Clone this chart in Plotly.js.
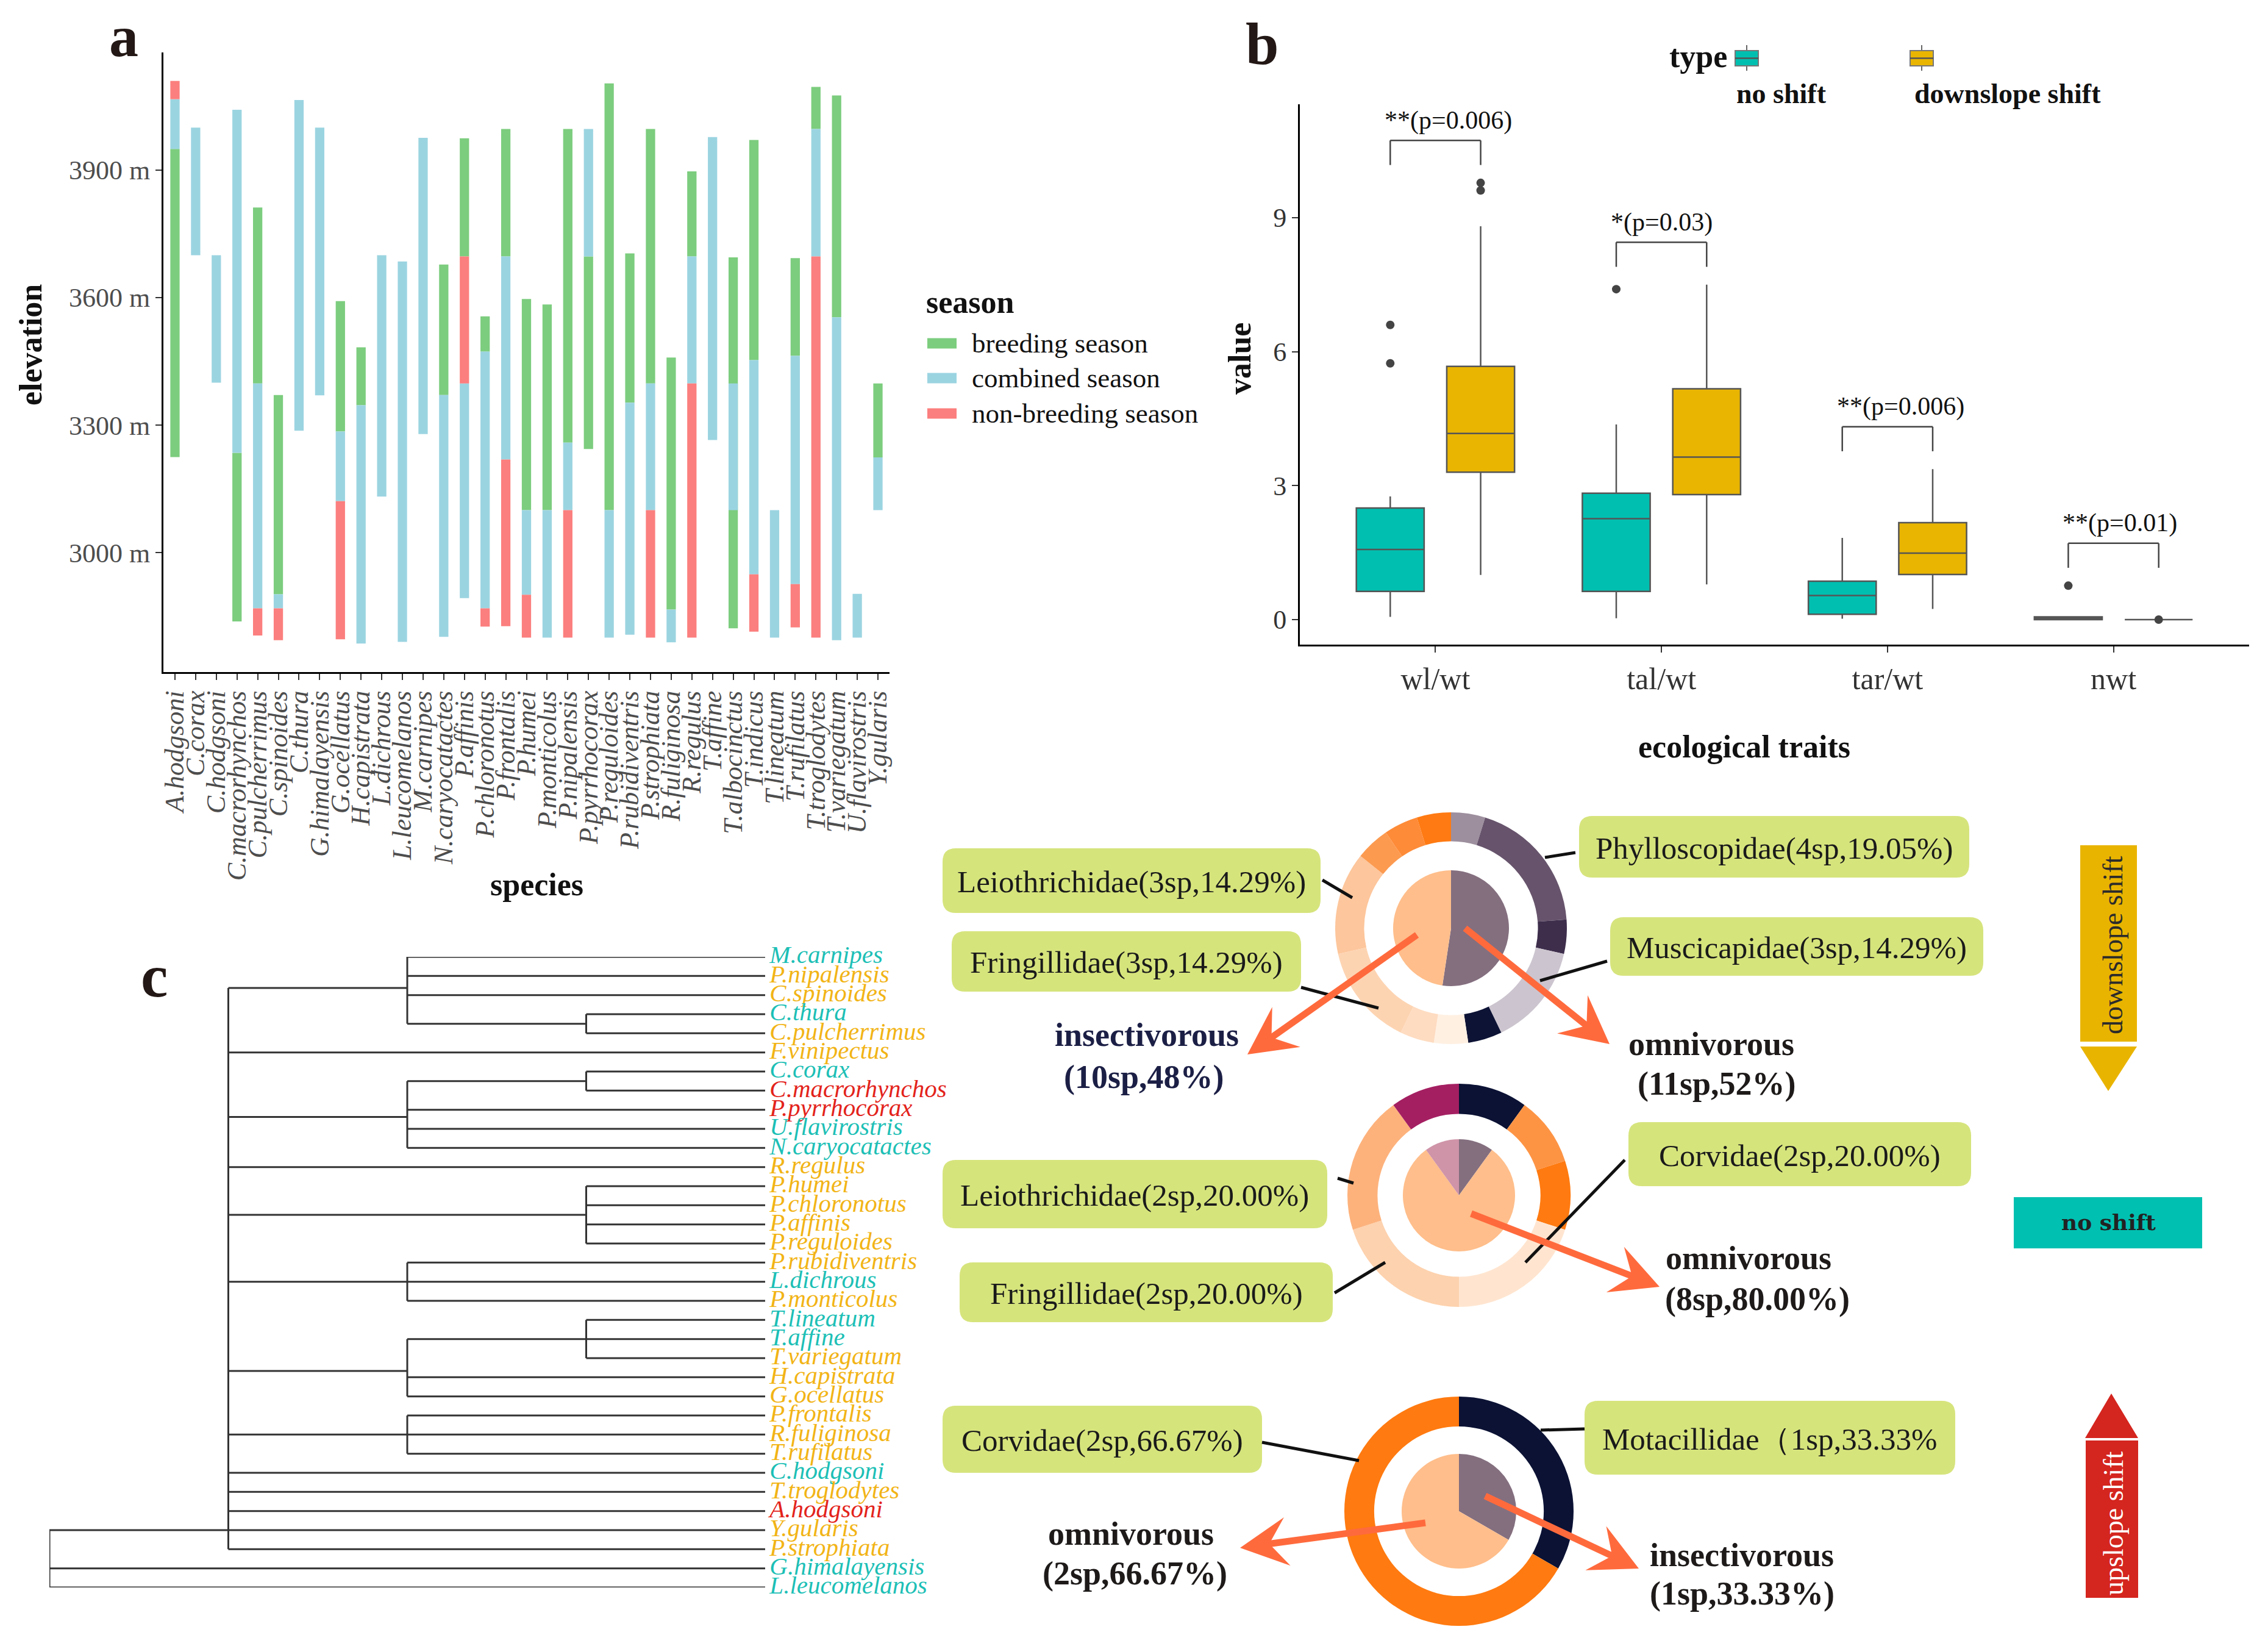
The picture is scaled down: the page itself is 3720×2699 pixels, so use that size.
<!DOCTYPE html>
<html><head><meta charset="utf-8">
<script src="https://cdn.plot.ly/plotly-3.0.1.min.js"></script>
<style>html,body{margin:0;padding:0;background:#fff;}</style>
</head><body><div id="chart" style="width:3720px;height:2699px;"></div>
<script>
// ---------------- Panel a data ----------------
const species = ['A.hodgsoni','C.corax','C.hodgsoni','C.macrorhynchos','C.pulcherrimus','C.spinoides','C.thura','G.himalayensis','G.ocellatus','H.capistrata','L.dichrous','L.leucomelanos','M.carnipes','N.caryocatactes','P.affinis','P.chloronotus','P.frontalis','P.humei','P.monticolus','P.nipalensis','P.pyrrhocorax','P.reguloides','P.rubidiventris','P.strophiata','R.fuliginosa','R.regulus','T.affine','T.albocinctus','T.indicus','T.lineatum','T.rufilatus','T.troglodytes','T.variegatum','U.flavirostris','Y.gularis'];
const breedLow  = [3225,null,null,2838,3398,2902,null,null,3285,3347,null,null,null,3371,3697,3473,3697,3100,3100,3259,3244,3100,3353,3398,2866,3697,null,2822,3453,null,3463,3997,3554,null,3224];
const breedHigh = [3950,null,null,3235,3812,3371,null,null,3592,3483,null,null,null,3678,3975,3556,3997,3597,3584,3997,3697,4104,3704,3997,3459,3897,null,3695,3971,null,3693,4096,4076,null,3398];
const combLow   = [3950,3700,3400,3235,2869,2869,3287,3370,3121,2786,3132,2790,3279,2802,2893,2869,3219,2901,2800,3100,3697,2800,2807,3100,2789,3398,3265,3100,2949,2800,2926,3697,2794,2800,3100];
const combHigh  = [4067,4000,3700,4042,3398,2902,4065,4000,3285,3347,3700,3685,3976,3371,3398,3473,3697,3100,3100,3259,3997,3100,3353,3398,2866,3697,3978,3398,3453,3100,3463,3997,3554,2903,3224];
const nonLow    = [4067,null,null,null,2805,2794,null,null,2796,null,null,null,null,null,3398,2826,2827,2800,null,2800,null,null,null,2800,null,2800,null,null,2814,null,2824,2800,null,null,null];
const nonHigh   = [4110,null,null,null,2869,2869,null,null,3121,null,null,null,null,null,3697,2869,3219,2901,null,3100,null,null,null,3100,null,3398,null,null,2949,null,2926,3697,null,null,null];
const seasonNames = ['breeding season','combined season','non-breeding season'];
const elevTicks = [3000,3300,3600,3900];
const elevTickText = ['3000 m','3300 m','3600 m','3900 m'];

// ---------------- Panel b data ----------------
const traits = ['wl/wt','tal/wt','tar/wt','nwt'];
const typeNames = ['no shift','downslope shift'];
const noShiftLo  = [0.06,0.03,0.02,0.00];
const noShiftQ1  = [0.63,0.63,0.12,0.00];
const noShiftMed = [1.57,2.26,0.54,0.03];
const noShiftQ3  = [2.50,2.83,0.86,0.06];
const noShiftHi  = [2.76,4.37,1.83,0.07];
const downLo  = [1.00,0.79,0.24,0.00];
const downQ1  = [3.30,2.80,1.01,0.00];
const downMed = [4.17,3.64,1.49,0.00];
const downQ3  = [5.67,5.17,2.17,0.00];
const downHi  = [8.81,7.50,3.37,0.00];
const noShiftOutTrait = [0,0,1,3];
const noShiftOutVal   = [6.60,5.74,7.40,0.76];
const downOutTrait = [0,0,3];
const downOutVal   = [9.78,9.61,0.00];
const sigLabels = ['**(p=0.006)','*(p=0.03)','**(p=0.006)','**(p=0.01)'];
const valueTicks = [0,3,6,9];

// ---------------- Panel c data ----------------
const tipDepth = 4;
const treeData = {d:0, c:[
  {d:1, anchor:'Y.gularis', c:[
    {d:2, c:['M.carnipes','P.nipalensis','C.spinoides',{d:3, c:['C.thura','C.pulcherrimus']}]},
    'F.vinipectus',
    {d:2, c:[{d:3, c:['C.corax','C.macrorhynchos']},'P.pyrrhocorax','U.flavirostris','N.caryocatactes']},
    'R.regulus',
    {d:3, c:['P.humei','P.chloronotus','P.affinis','P.reguloides']},
    {d:2, c:['P.rubidiventris','L.dichrous','P.monticolus']},
    {d:2, c:[{d:3, c:['T.lineatum','T.affine','T.variegatum']},'H.capistrata','G.ocellatus']},
    {d:2, c:['P.frontalis','R.fuliginosa','T.rufilatus']},
    'C.hodgsoni','T.troglodytes','A.hodgsoni','Y.gularis','P.strophiata'
  ]},
  'G.himalayensis','L.leucomelanos'
]};
const noShiftTips  = ['M.carnipes','C.thura','C.corax','U.flavirostris','N.caryocatactes','L.dichrous','T.lineatum','T.affine','C.hodgsoni','G.himalayensis','L.leucomelanos'];
const upslopeTips  = ['C.macrorhynchos','P.pyrrhocorax','A.hodgsoni'];

// donut data (slices clockwise from 12 o'clock)
const d1OuterNames = ['Omni-1','Phylloscopidae','Omni-2','Muscicapidae','Omni-3','Omni-4','Insect-1','Fringillidae','Leiothrichidae','Insect-2','Insect-3','Insect-4'];
const d1OuterSp    = [1,4,1,3,1,1,1,3,3,1,1,1];
const d1InnerNames = ['omnivorous','insectivorous'];
const d1InnerSp    = [11,10];
const d2OuterNames = ['NS-1','NS-2','NS-3','Corvidae','Fringillidae','Leiothrichidae','NS-4'];
const d2OuterSp    = [1,1,1,2,2,2,1];
const d2InnerNames = ['insectivorous','omnivorous','granivorous'];
const d2InnerSp    = [1,8,1];
const d3OuterNames = ['Motacillidae','Corvidae'];
const d3OuterSp    = [1,2];
const d3InnerNames = ['insectivorous','omnivorous'];
const d3InnerSp    = [1,2];

// ---------------- helpers / styles ----------------
const W = 3720, H = 2699;
const X = px => px / W, Y = py => 1 - py / H;
const SERIF = 'Liberation Serif';
const seasonColors = ['#7ccd7e','#9bd4e1','#fb7f7e'];
const teal = '#00bfb0', gold = '#e9b500';
const shapes = [], annotations = [];

function ann(text, px, py, opts) {
  annotations.push(Object.assign({text:text, x:X(px), y:Y(py), xref:'paper', yref:'paper',
    showarrow:false, xanchor:'center', yanchor:'middle',
    font:{family:SERIF, size:44, color:'#1a1a1a'}}, opts||{}));
}
function rectPx(x0,y0,x1,y1,fill,line) {
  shapes.push({type:'rect', xref:'paper', yref:'paper', x0:X(x0), x1:X(x1), y0:Y(y1), y1:Y(y0),
    fillcolor:fill, line:line||{width:0}});
}
function linePx(x0,y0,x1,y1,color,width) {
  shapes.push({type:'line', xref:'paper', yref:'paper', x0:X(x0), y0:Y(y0), x1:X(x1), y1:Y(y1),
    line:{color:color, width:width}});
}
function pathPx(pts, fill) {
  const d = 'M' + pts.map(p => X(p[0]) + ',' + Y(p[1])).join(' L') + ' Z';
  shapes.push({type:'path', xref:'paper', yref:'paper', path:d, fillcolor:fill, line:{width:0}});
}
function roundBox(x0,y0,x1,y1,r,fill) {
  const P = (x,y) => X(x) + ',' + Y(y);
  const d = `M${P(x0+r,y0)} L${P(x1-r,y0)} Q${P(x1,y0)} ${P(x1,y0+r)} L${P(x1,y1-r)} Q${P(x1,y1)} ${P(x1-r,y1)} L${P(x0+r,y1)} Q${P(x0,y1)} ${P(x0,y1-r)} L${P(x0,y0+r)} Q${P(x0,y0)} ${P(x0+r,y0)} Z`;
  shapes.push({type:'path', xref:'paper', yref:'paper', path:d, fillcolor:fill, line:{width:0}});
}
function arrowPx(x0,y0,x1,y1,color) {
  const dx=x1-x0, dy=y1-y0, len=Math.hypot(dx,dy), ux=dx/len, uy=dy/len, px=-uy, py=ux;
  const L=78, Wd=40, notch=0.62;
  const bx=x1-ux*L, by=y1-uy*L, sx=x1-ux*L*notch, sy=y1-uy*L*notch;
  linePx(x0,y0,sx+ux*4,sy+uy*4,color,11);
  pathPx([[x1,y1],[bx+px*Wd,by+py*Wd],[sx,sy],[bx-px*Wd,by-py*Wd]], color);
}

// ---------------- traces ----------------
const traces = [];
const lows = [breedLow, combLow, nonLow], highs = [breedHigh, combHigh, nonHigh];
for (let s = 0; s < 3; s++) {
  traces.push({type:'bar', name:seasonNames[s], x:species,
    base:lows[s], y:highs[s].map((h,i) => h === null ? null : h - lows[s][i]),
    width:0.45, marker:{color:seasonColors[s], line:{width:0}},
    xaxis:'x', yaxis:'y', hoverinfo:'skip', showlegend:false});
}

const traitIdx = traits.map((_,i) => i);
const dodge = 0.2;
traces.push({type:'box', name:typeNames[0], x:traitIdx.map(i => i - dodge),
  q1:noShiftQ1, median:noShiftMed, q3:noShiftQ3, lowerfence:noShiftLo, upperfence:noShiftHi,
  width:0.3, fillcolor:teal, line:{color:'#555555', width:2.5}, whiskerwidth:0, boxpoints:false,
  xaxis:'x2', yaxis:'y2', hoverinfo:'skip', showlegend:false});
traces.push({type:'box', name:typeNames[1], x:traitIdx.map(i => i + dodge),
  q1:downQ1, median:downMed, q3:downQ3, lowerfence:downLo, upperfence:downHi,
  width:0.3, fillcolor:gold, line:{color:'#555555', width:2.5}, whiskerwidth:0, boxpoints:false,
  xaxis:'x2', yaxis:'y2', hoverinfo:'skip', showlegend:false});
traces.push({type:'scatter', mode:'markers', x:noShiftOutTrait.map(i => i - dodge), y:noShiftOutVal,
  marker:{color:'#444', size:14}, xaxis:'x2', yaxis:'y2', hoverinfo:'skip', showlegend:false});
traces.push({type:'scatter', mode:'markers', x:downOutTrait.map(i => i + dodge), y:downOutVal,
  marker:{color:'#444', size:14}, xaxis:'x2', yaxis:'y2', hoverinfo:'skip', showlegend:false});

// significance brackets
traits.forEach((t,i) => {
  const outs = noShiftOutVal.filter((v,k) => noShiftOutTrait[k] === i).concat(downOutVal.filter((v,k) => downOutTrait[k] === i));
  const top = Math.max(noShiftHi[i], downHi[i], ...outs) + 0.95;
  const leg = 0.55;
  const xl = i - dodge, xr = i + dodge;
  [[xl,top-leg,xl,top],[xl,top,xr,top],[xr,top,xr,top-leg]].forEach(s => shapes.push({type:'line', xref:'x2', yref:'y2',
    x0:s[0], y0:s[1], x1:s[2], y1:s[3], line:{color:'#444', width:2.5}}));
  annotations.push({text:sigLabels[i], x:xl - 0.03, y:top + 0.1, xref:'x2', yref:'y2', showarrow:false,
    xanchor:'left', yanchor:'bottom', font:{family:SERIF, size:42, color:'#111'}});
});

// tree layout
const tipOrder = [];
(function collect(n){ if (typeof n === 'string') tipOrder.push(n); else n.c.forEach(collect); })(treeData);
const tipY = {}; tipOrder.forEach((t,i) => tipY[t] = i);
const tx = [], ty = [];
function layoutNode(n) {
  if (typeof n === 'string') return {y:tipY[n], d:tipDepth};
  const kids = n.c.map(layoutNode);
  const y = n.anchor ? tipY[n.anchor] : kids.reduce((a,k) => a + k.y, 0) / kids.length;
  tx.push(n.d, n.d, null); ty.push(kids[0].y, kids[kids.length-1].y, null);
  kids.forEach(k => { tx.push(n.d, k.d, null); ty.push(k.y, k.y, null); });
  return {y:y, d:n.d};
}
layoutNode(treeData);
traces.push({type:'scatter', mode:'lines', x:tx, y:ty, line:{color:'#333', width:3},
  xaxis:'x3', yaxis:'y3', hoverinfo:'skip', showlegend:false, connectgaps:false});
const tipColor = t => upslopeTips.includes(t) ? '#e3231b' : (noShiftTips.includes(t) ? '#1dbfb6' : '#f2b416');
const labelGap = 0.025;
traces.push({type:'scatter', mode:'text', x:tipOrder.map(() => tipDepth + labelGap), y:tipOrder.map(t => tipY[t]),
  text:tipOrder, textposition:'middle right',
  textfont:{family:SERIF, size:41, style:'italic', color:tipOrder.map(tipColor)},
  cliponaxis:false, xaxis:'x3', yaxis:'y3', hoverinfo:'skip', showlegend:false});

// donuts
function pieDomain(cx, cy, R) { return {x:[X(cx-R), X(cx+R)], y:[Y(cy+R), Y(cy-R)]}; }
function addPie(labels, values, colors, cx, cy, R, hole) {
  traces.push({type:'pie', labels:labels, values:values, marker:{colors:colors, line:{width:0}},
    hole:hole, sort:false, direction:'clockwise', rotation:0, textinfo:'none', hoverinfo:'skip',
    showlegend:false, domain:pieDomain(cx, cy, R)});
}
const purple = '#846f7f', peach = '#ffbe8b';
addPie(d1OuterNames, d1OuterSp, ['#9d8f9d','#67546c','#3e2e4c','#ccc5cf','#0d1335','#fff0e2','#fedcc1','#fdd4b2','#fdc69c','#fc9a50','#fe8b38','#ff7a12'], 2380, 1522, 190, 0.75);
addPie(d1InnerNames, d1InnerSp, [purple, peach], 2380, 1522, 95, 0);
addPie(d2OuterNames, d2OuterSp, ['#0b1234','#fd9444','#ff7a10','#ffe5d0','#fdd2ae','#fdb27c','#a41f62'], 2393, 1960, 183, 0.73);
addPie(d2InnerNames, d2InnerSp, [purple, peach, '#cf94a8'], 2393, 1960, 92, 0);
addPie(d3OuterNames, d3OuterSp, ['#0b1234','#ff7a10'], 2393, 2478, 188, 0.74);
addPie(d3InnerNames, d3InnerSp, [purple, peach], 2393, 2478, 94, 0);

// ---------------- decorations ----------------
// panel letters
ann('a', 203, 60, {font:{family:SERIF, size:96, weight:'bold', color:'#231815'}});
ann('b', 2070, 72, {font:{family:SERIF, size:98, weight:'bold', color:'#231815'}});
ann('c', 253, 1600, {font:{family:SERIF, size:100, weight:'bold', color:'#231815'}});
// axis titles
ann('elevation', 50, 566, {textangle:-90, font:{family:SERIF, size:52, weight:'bold', color:'#111'}});
ann('species', 880, 1450, {font:{family:SERIF, size:52, weight:'bold', color:'#111'}});
ann('value', 2034, 588, {textangle:-90, font:{family:SERIF, size:52, weight:'bold', color:'#111'}});
ann('ecological traits', 2861, 1224, {font:{family:SERIF, size:52, weight:'bold', color:'#111'}});

// panel a legend
ann('season', 1517, 496, {xanchor:'left', font:{family:SERIF, size:52, weight:'bold', color:'#111'}});
[563, 620, 678].forEach((cy,s) => {
  rectPx(1521, cy-8.5, 1569, cy+8.5, seasonColors[s]);
  ann(seasonNames[s], 1592, cy, {xanchor:'left', font:{family:SERIF, size:45, color:'#111'}});
});

// panel b legend
ann('type', 2736, 92, {xanchor:'left', font:{family:SERIF, size:52, weight:'bold', color:'#111'}});
[[2846, teal, typeNames[0], 2846], [3133, gold, typeNames[1], 3138]].forEach(k => {
  const x0 = k[0], x1 = k[0] + 38, xm = (x0 + x1) / 2;
  linePx(xm, 74, xm, 116, '#666', 2);
  rectPx(x0, 83, x1, 108, k[1], {color:'#777', width:2});
  linePx(x0, 95.5, x1, 95.5, '#555', 2.5);
  ann(k[2], k[3], 153, {xanchor:'left', font:{family:SERIF, size:46, weight:'bold', color:'#111'}});
});

// label boxes (donut callouts)
const boxFill = '#d6e47c';
const callouts = [
  ['Leiothrichidae(3sp,14.29%)', 1546, 1391, 2166, 1497],
  ['Phylloscopidae(4sp,19.05%)', 2590, 1338, 3230, 1439],
  ['Fringillidae(3sp,14.29%)', 1561, 1527, 2134, 1626],
  ['Muscicapidae(3sp,14.29%)', 2641, 1504, 3253, 1600],
  ['Corvidae(2sp,20.00%)', 2671, 1840, 3233, 1945],
  ['Leiothrichidae(2sp,20.00%)', 1546, 1902, 2177, 2014],
  ['Fringillidae(2sp,20.00%)', 1574, 2070, 2186, 2168],
  ['Corvidae(2sp,66.67%)', 1546, 2305, 2070, 2415],
  ['Motacillidae（1sp,33.33%', 2599, 2297, 3207, 2418]
];
callouts.forEach(c => {
  roundBox(c[1], c[2], c[3], c[4], 22, boxFill);
  ann(c[0], (c[1]+c[3])/2, (c[2]+c[4])/2 + 2, {font:{family:SERIF, size:51, color:'#1a1a1a'}});
});
// connector lines
[[2169,1443,2218,1472],[2584,1398,2534,1406],[2636,1576,2526,1608],[2134,1619,2261,1653],
 [2665,1902,2502,2070],[2194,1932,2220,1940],[2189,2120,2272,2070],
 [2070,2365,2229,2395],[2599,2343,2527,2345]].forEach(l => linePx(l[0],l[1],l[2],l[3],'#111',5));

// orange arrows
const arrowCol = '#ff6a3d';
arrowPx(2324,1533,2046,1729,arrowCol);
arrowPx(2403,1522,2640,1712,arrowCol);
arrowPx(2413,1990,2722,2110,arrowCol);
arrowPx(2338,2497,2034,2538,arrowCol);
arrowPx(2436,2453,2688,2572,arrowCol);

// diet labels
const dl = (t, x, y, c) => ann(t, x, y, {font:{family:SERIF, size:54, weight:'bold', color:c}});
dl('insectivorous', 1881, 1697, '#1c1f45'); dl('(10sp,48%)', 1877, 1766, '#1c1f45');
dl('omnivorous', 2807, 1712, '#1e1a1a'); dl('(11sp,52%)', 2816, 1777, '#1e1a1a');
dl('omnivorous', 2868, 2063, '#1e1a1a'); dl('(8sp,80.00%)', 2882, 2130, '#1e1a1a');
dl('omnivorous', 1855, 2515, '#1e1a1a'); dl('(2sp,66.67%)', 1861, 2580, '#1e1a1a');
dl('insectivorous', 2857, 2550, '#1e1a1a'); dl('(1sp,33.33%)', 2857, 2613, '#1e1a1a');

// right side shift arrows
rectPx(3412, 1386, 3505, 1708, '#e9b400');
pathPx([[3412,1716],[3505,1716],[3458,1789]], '#e9b400');
ann('downslope shift', 3465, 1550, {textangle:-90, font:{family:SERIF, size:46, color:'#2b2b2b'}});
rectPx(3303, 1963, 3612, 2047, '#00c0b1');
ann('no shift', 3458, 2004, {font:{family:'DejaVu Serif', size:36, weight:'bold', color:'#222'}});
pathPx([[3463,2285],[3507,2358],[3420,2358]], '#d4251e');
rectPx(3421, 2362, 3507, 2620, '#d4251e');
ann('upslope shift', 3466, 2498, {textangle:-90, font:{family:SERIF, size:46, color:'#ffffff'}});

// ---------------- layout ----------------
const axisLine = {showline:true, linecolor:'#000', linewidth:3, showgrid:false, zeroline:false,
  ticks:'outside', ticklen:10, tickwidth:2, tickcolor:'#333'};
const treeUnit = (1255 - 81) / tipDepth;   // px per depth step
const treeRangeMax = tipDepth + 0.6;
const layout = {
  width:W, height:H, margin:{l:0, r:0, t:0, b:0, pad:0},
  paper_bgcolor:'#fff', plot_bgcolor:'#fff', showlegend:false, hovermode:false,
  barmode:'overlay', font:{family:SERIF},
  xaxis: Object.assign({}, axisLine, {domain:[X(268), X(1459)], anchor:'y', type:'category',
    range:[-0.56, species.length - 0.44], tickmode:'array', tickvals:species, ticktext:species,
    tickangle:-90, tickfont:{family:SERIF, size:44, style:'italic', color:'#4d4d4d'}}),
  yaxis: Object.assign({}, axisLine, {domain:[Y(1102), Y(86)], anchor:'x', range:[2719, 4177],
    tickmode:'array', tickvals:elevTicks, ticktext:elevTickText,
    tickfont:{family:SERIF, size:44, color:'#4d4d4d'}}),
  xaxis2: Object.assign({}, axisLine, {domain:[X(2132), X(3689)], anchor:'y2', range:[-0.6, 3.6],
    tickmode:'array', tickvals:traitIdx, ticktext:traits,
    tickfont:{family:SERIF, size:50, color:'#333'}}),
  yaxis2: Object.assign({}, axisLine, {domain:[Y(1057), Y(171)], anchor:'x2', range:[-0.56, 11.54],
    tickmode:'array', tickvals:valueTicks, ticktext:valueTicks.map(String),
    tickfont:{family:SERIF, size:44, color:'#333'}}),
  xaxis3: {domain:[X(81), X(81 + treeUnit * treeRangeMax)], anchor:'y3', range:[0, treeRangeMax], visible:false, fixedrange:true},
  yaxis3: {domain:[Y(2603), Y(1569)], anchor:'x3', range:[tipOrder.length - 1, 0], visible:false, fixedrange:true},
  shapes:shapes, annotations:annotations
};
Plotly.newPlot('chart', traces, layout, {staticPlot:true, displayModeBar:false});
</script></body></html>
